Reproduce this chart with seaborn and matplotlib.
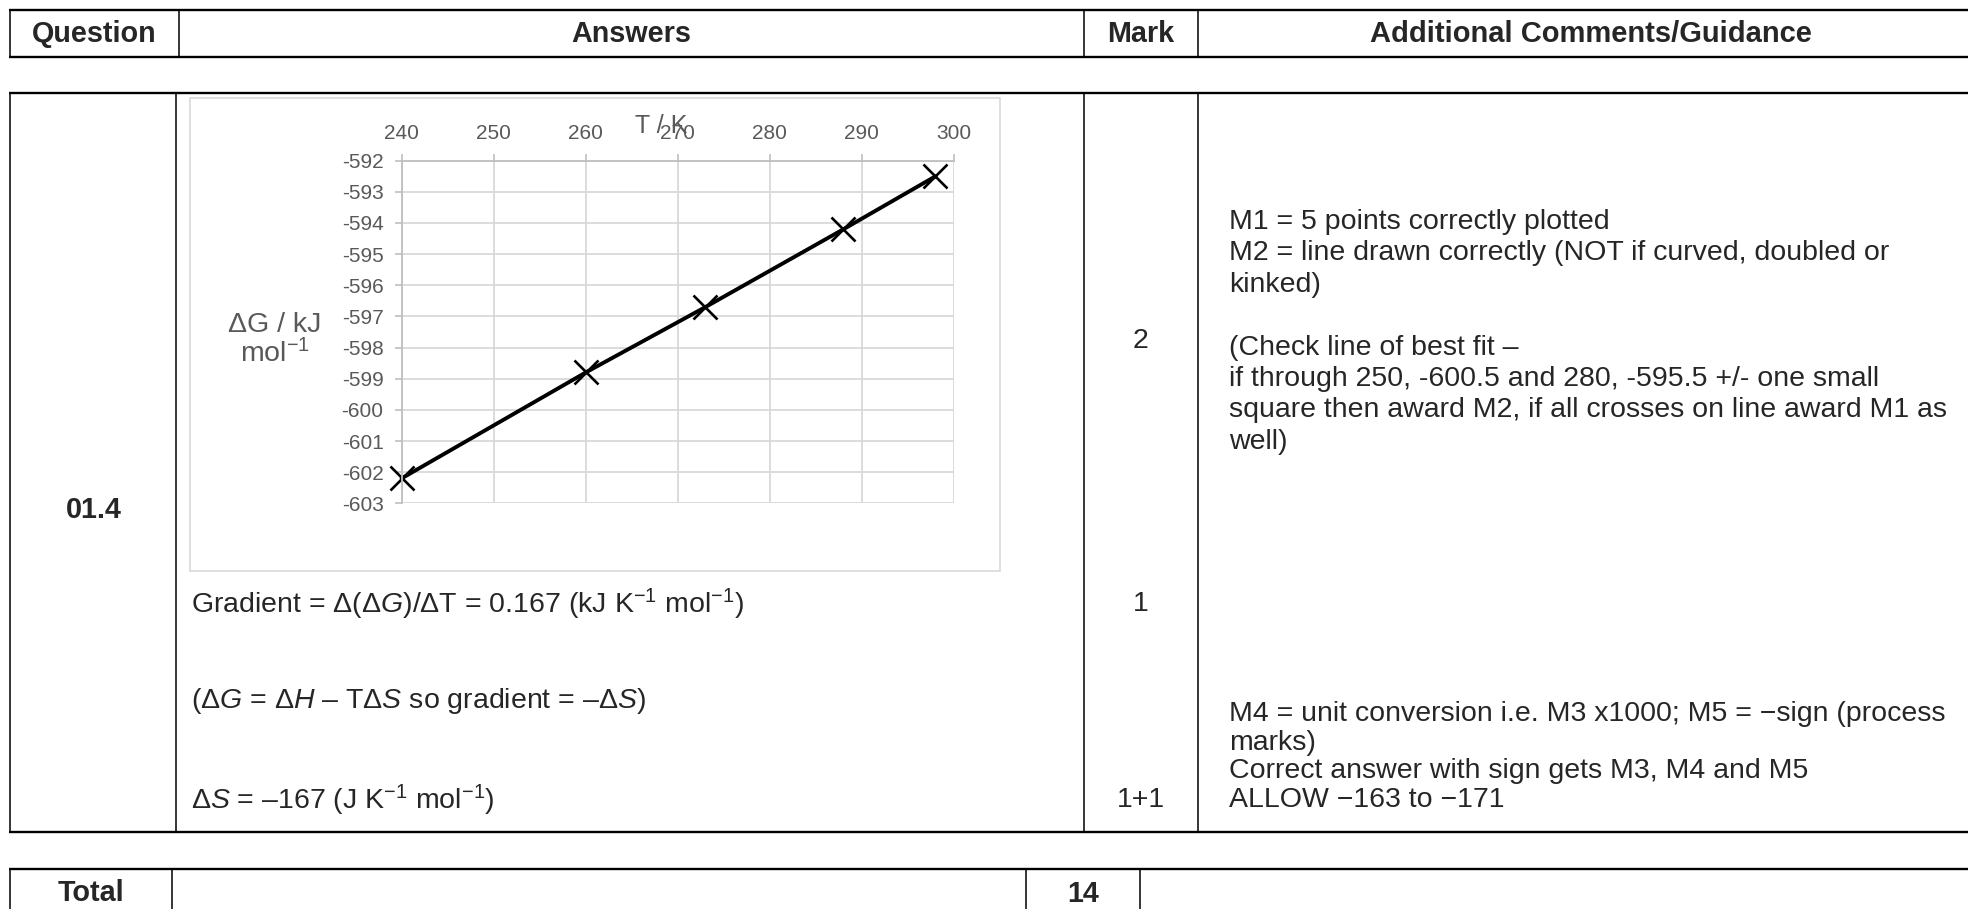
import matplotlib
matplotlib.use("Agg")
import matplotlib.pyplot as plt
import seaborn as sns
import pandas as pd
from matplotlib.patches import Rectangle

# ---------------- data ----------------
temperature_K = [240, 260, 273, 288, 298]
delta_G = [-602.2, -598.8, -596.7, -594.2, -592.5]
x_ticks = [240, 250, 260, 270, 280, 290, 300]
y_ticks = [-592, -593, -594, -595, -596, -597, -598, -599, -600, -601, -602, -603]

header_labels = ["Question", "Answers", "Mark", "Additional Comments/Guidance"]
question_id = "01.4"
answer_lines = [
    "Gradient = Δ(Δ$G$)/ΔT = 0.167 (kJ K$^{-1}$ mol$^{-1}$)",
    "(Δ$G$ = Δ$H$ – TΔ$S$ so gradient = –Δ$S$)",
    "Δ$S$ = –167 (J K$^{-1}$ mol$^{-1}$)",
]
marks = ["2", "1", "1+1"]
comment_lines_1 = [
    "M1 = 5 points correctly plotted",
    "M2 = line drawn correctly (NOT if curved, doubled or",
    "kinked)",
    "",
    "(Check line of best fit –",
    "if through 250, -600.5 and 280, -595.5 +/- one small",
    "square then award M2, if all crosses on line award M1 as",
    "well)",
]
comment_lines_2 = [
    "M4 = unit conversion i.e. M3 x1000; M5 = \u2212sign (process",
    "marks)",
    "Correct answer with sign gets M3, M4 and M5",
    "ALLOW \u2212163 to \u2212171",
]
total_label = "Total"
total_marks = "14"

# ---------------- style ----------------
sns.set_theme(style="white")
plt.rcParams["font.family"] = ["Liberation Sans", "DejaVu Sans"]
plt.rcParams["mathtext.fontset"] = "custom"
plt.rcParams["mathtext.rm"] = "Liberation Sans"
plt.rcParams["mathtext.it"] = "Liberation Sans:italic"
plt.rcParams["mathtext.bf"] = "Liberation Sans:bold"

W, H = 1968, 909
fig = plt.figure(figsize=(W / 100, H / 100), dpi=100)
fig.patch.set_facecolor("white")

bg = fig.add_axes([0, 0, 1, 1])
bg.set_xlim(0, W)
bg.set_ylim(H, 0)
bg.axis("off")

HLW = 1.7
VLW = 1.1


def hline(y, x0, x1):
    bg.plot([x0, x1], [y, y], color="black", lw=HLW, solid_capstyle="butt")


def vline(x, y0, y1):
    bg.plot([x, x], [y0, y1], color="black", lw=VLW, solid_capstyle="butt")


# header row
hline(10, 9, W)
hline(57, 9, W)
for x in [10, 179, 1084, 1198]:
    vline(x, 10, 57)

# main row
hline(93, 9, W)
hline(832, 9, W)
for x in [10, 176, 1084, 1198]:
    vline(x, 93, 832)

# total row
hline(869, 9, W)
for x in [10, 172, 1026, 1140]:
    vline(x, 869, H)

HFS = 20.7
BFS = 20.5
bg.text(94, 34, header_labels[0], ha="center", va="center", fontsize=HFS, fontweight="bold")
bg.text(631, 34, header_labels[1], ha="center", va="center", fontsize=HFS, fontweight="bold")
bg.text(1141, 34, header_labels[2], ha="center", va="center", fontsize=HFS, fontweight="bold")
bg.text(1591, 34, header_labels[3], ha="center", va="center", fontsize=21, fontweight="bold")

bg.text(94, 510, question_id, ha="center", va="center", fontsize=HFS, fontweight="bold")

for txt, y in zip(answer_lines, [604, 701, 800]):
    bg.text(191, y, txt, ha="left", va="center", fontsize=BFS)

for txt, y in zip(marks, [341, 604, 800]):
    bg.text(1141, y, txt, ha="center", va="center", fontsize=BFS)

for i, txt in enumerate(comment_lines_1):
    if txt:
        bg.text(1229, 222 + i * 31.4, txt, ha="left", va="center", fontsize=BFS)
for i, txt in enumerate(comment_lines_2):
    bg.text(1229, 714 + i * 28.6, txt, ha="left", va="center", fontsize=BFS)

bg.text(91, 893, total_label, ha="center", va="center", fontsize=HFS, fontweight="bold")
bg.text(1083, 894, total_marks, ha="center", va="center", fontsize=HFS, fontweight="bold")

# chart frame
bg.add_patch(Rectangle((190, 98), 810, 473, fill=False, edgecolor="#d9d9d9", lw=1.2))

# ---------------- chart ----------------
px0, px1 = 401.6, 953.9
py0, py1 = 160.7, 503.3
ax = fig.add_axes([px0 / W, (H - py1) / H, (px1 - px0) / W, (py1 - py0) / H])
ax.set_facecolor("none")

df = pd.DataFrame({"T": temperature_K, "dG": delta_G})
sns.lineplot(data=df, x="T", y="dG", ax=ax, color="black", lw=2.8,
             marker="x", markersize=17.5, markeredgecolor="black",
             markeredgewidth=1.9, sort=True, clip_on=False)

ax.set_xlim(240, 300)
ax.set_ylim(-603, -592)
ax.set_xticks(x_ticks)
ax.set_yticks(y_ticks)
ax.xaxis.tick_top()
ax.grid(True, color="#d9d9d9", lw=1.3)
ax.set_axisbelow(True)
for s in ["right", "bottom"]:
    ax.spines[s].set_visible(False)
for s in ["left", "top"]:
    ax.spines[s].set_visible(True)
    ax.spines[s].set_color("#bfbfbf")
    ax.spines[s].set_linewidth(1.3)
ax.tick_params(axis="x", which="major", direction="out", length=5, width=1.2,
               color="#bfbfbf", labelsize=15, labelcolor="#595959", pad=8,
               top=True, bottom=False, labeltop=True, labelbottom=False)
ax.tick_params(axis="y", which="major", direction="out", length=5, width=1.2,
               color="#bfbfbf", labelsize=15, labelcolor="#595959", pad=8, left=True)
ax.set_xlabel("")
ax.set_ylabel("")
ax.set_yticklabels([str(v) for v in y_ticks])

bg.text(661, 126, "T / K", ha="center", va="center", fontsize=18, color="#595959")
bg.text(275, 340, "ΔG / kJ\nmol$^{-1}$", ha="center", va="center", fontsize=20.5,
        color="#595959", linespacing=1.05, multialignment="center")

fig.savefig("out.png", dpi=100)
